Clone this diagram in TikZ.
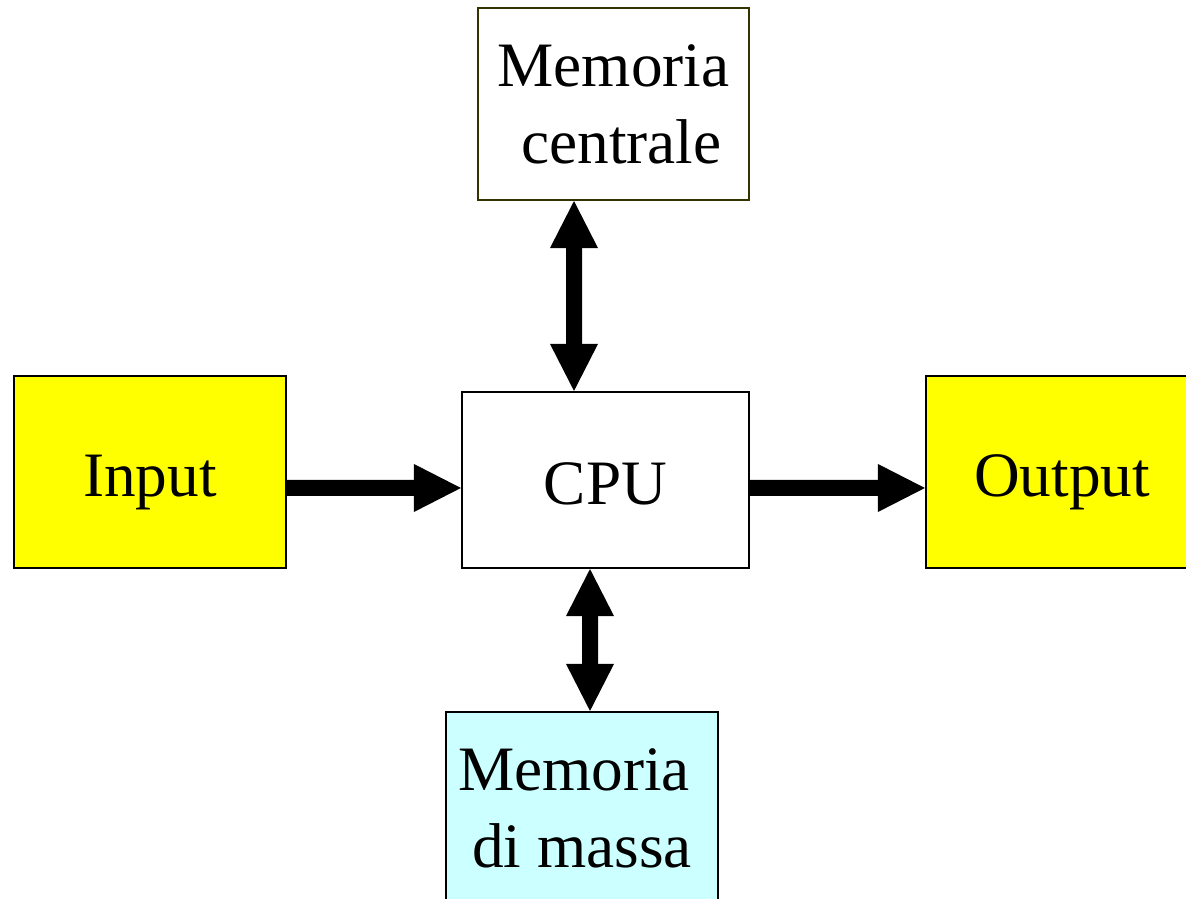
\documentclass[tikz,border=0pt]{standalone}
\usepackage{fontspec}
\setmainfont{Liberation Serif}
\usepackage{tikz}
\usetikzlibrary{arrows.meta,positioning}
\definecolor{boxYellow}{HTML}{FFFF00}
\definecolor{boxCyan}{HTML}{CCFFFF}
\definecolor{boxOlive}{HTML}{333300}

\begin{document}
\begin{tikzpicture}[
  font=\fontsize{18}{21.9}\selectfont,
  unit/.style={draw=black,fill=white,line width=0.6pt,inner sep=0pt,
               minimum width=2.72cm,minimum height=1.92cm,align=center},
  oneline/.style={text height=0.6cm,text depth=0.1cm},
  bigarr/.style={line width=1.6mm,
                 -{Triangle[width=4.8mm,length=4.7mm,line width=0pt]}},
  dblarr/.style={line width=1.6mm,
                 {Triangle[width=4.8mm,length=4.7mm,line width=0pt]}-{Triangle[width=4.8mm,length=4.7mm,line width=0pt]}}
]
\useasboundingbox (0,0) rectangle (11.86,-8.99);
\clip (0,0) rectangle (11.86,-8.99);

% Units
\node[unit,draw=boxOlive,minimum width=2.71cm] (central) at (6.135,-1.04)
  {Memoria\\\hspace*{0.25em}centrale};
\node[unit,oneline,minimum width=2.87cm,minimum height=1.76cm] (cpu) at (6.055,-4.80) {CPU};
\node[unit,oneline,fill=boxYellow] (input)  at (1.50,-4.72)  {Input};
\node[unit,oneline,fill=boxYellow] (output) at (10.62,-4.72) {Output};
\node[unit,fill=boxCyan] (mass) at (5.82,-8.08)
  {Memoria\hspace*{0.25em}\\di massa};

% Data paths
\draw[bigarr] ([yshift=-1.6mm]input.east) -- ([yshift=-0.8mm]cpu.west);
\draw[bigarr] ([yshift=-0.8mm]cpu.east) -- ([yshift=-1.6mm]output.west);
\draw[dblarr] ([xshift=-3.95mm]central.south) -- ([xshift=-3.15mm]cpu.north);
\draw[dblarr] ([xshift=-1.55mm]cpu.south) -- ([xshift=0.8mm]mass.north);
\end{tikzpicture}
\end{document}
